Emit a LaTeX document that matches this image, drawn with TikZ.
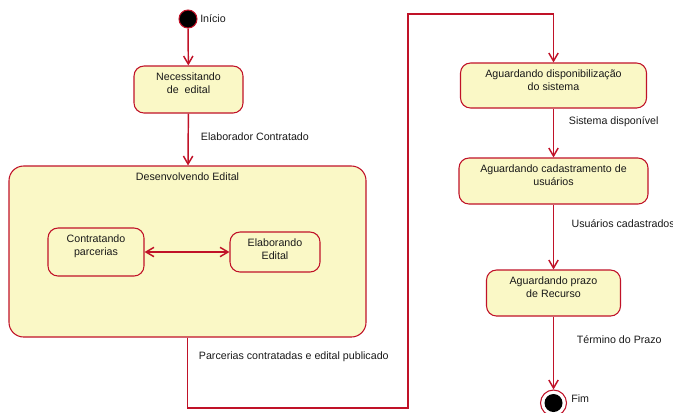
\documentclass[tikz,border=0pt]{standalone}
\usepackage{fontspec}
\setmainfont{Liberation Sans}
\usetikzlibrary{arrows.meta}
\definecolor{umlred}{RGB}{192,18,40}
\definecolor{umlfill}{RGB}{250,248,198}

\begin{document}
\begin{tikzpicture}[x=0.75pt,y=-0.75pt,
    font=\fontsize{8}{9.8}\selectfont,
    titulo/.style={anchor=north,align=center,text=black!90,inner sep=0pt,yshift=-5.5pt},
    estado/.style={draw=umlred,fill=umlfill,line width=0.8pt,rounded corners=7.5pt,
        label={[titulo]north:#1}},
    trans/.style={draw=umlred,line width=1.1pt,-{Straight Barb[length=6pt,width=7pt]}},
    rotulo/.style={text=black!90,inner sep=0pt,anchor=west}]
  \useasboundingbox (0,0) rectangle (673,412);

  % pseudo-estados
  \node[circle,draw=umlred,fill=black,line width=0.8pt,minimum size=13.5pt,inner sep=0pt] (inicio) at (188,19) {};
  \node[rotulo] (lblini) at (200,19) {Início};
  \node[circle,draw=umlred,fill=white,line width=0.8pt,minimum size=19.5pt,inner sep=0pt] (fim) at (553.5,403) {};
  \node[circle,fill=black,minimum size=13.5pt,inner sep=0pt] (fimcentro) at (fim) {};
  \node[rotulo] (lblfim) at (571,399) {Fim};

  % estados
  \node[estado={Necessitando\\de\ \ edital},minimum width=81.75pt,minimum height=35.25pt] (nec) at (188.5,89.5) {};
  \node[estado={Desenvolvendo Edital},rounded corners=11pt,minimum width=267.75pt,minimum height=128.25pt] (desenv) at (187.5,251.5) {};
  \node[estado={Contratando\\parcerias},minimum width=72pt,minimum height=36pt] (contr) at (96,252) {};
  \node[estado={Elaborando\\Edital},minimum width=67.5pt,minimum height=30pt] (elab) at (275,252) {};
  \node[estado={Aguardando disponibilização\\do sistema},minimum width=139.5pt,minimum height=33.75pt] (disp) at (553.5,85.5) {};
  \node[estado={Aguardando cadastramento de\\usuários},minimum width=141.75pt,minimum height=34.5pt] (cad) at (553.5,181) {};
  \node[estado={Aguardando prazo\\de Recurso},minimum width=100.5pt,minimum height=34.5pt] (prazo) at (553.5,293) {};

  \coordinate (dobra1) at (408,408);
  \coordinate (dobra2) at (408,14);

  % transicoes
  \draw[trans] (inicio) -- (nec);
  \draw[trans] (nec) -- node[rotulo,pos=0.45,xshift=9pt]{Elaborador Contratado} (desenv);
  \draw[trans,{Straight Barb[length=6pt,width=7pt]}-{Straight Barb[length=6pt,width=7pt]}] (contr) -- (elab);
  \draw[trans] (desenv) |- node[rotulo,pos=0.135,xshift=8pt]{Parcerias contratadas e edital publicado} (dobra1)
    -- (dobra2) -| (disp);
  \draw[trans] (disp) -- node[rotulo,pos=0.26,xshift=11pt]{Sistema disponível} (cad);
  \draw[trans] (cad) -- node[rotulo,pos=0.3,xshift=13pt]{Usuários cadastrados} (prazo);
  \draw[trans] (prazo) -- node[rotulo,pos=0.31,xshift=17pt]{Término do Prazo} (fim);
\end{tikzpicture}
\end{document}
